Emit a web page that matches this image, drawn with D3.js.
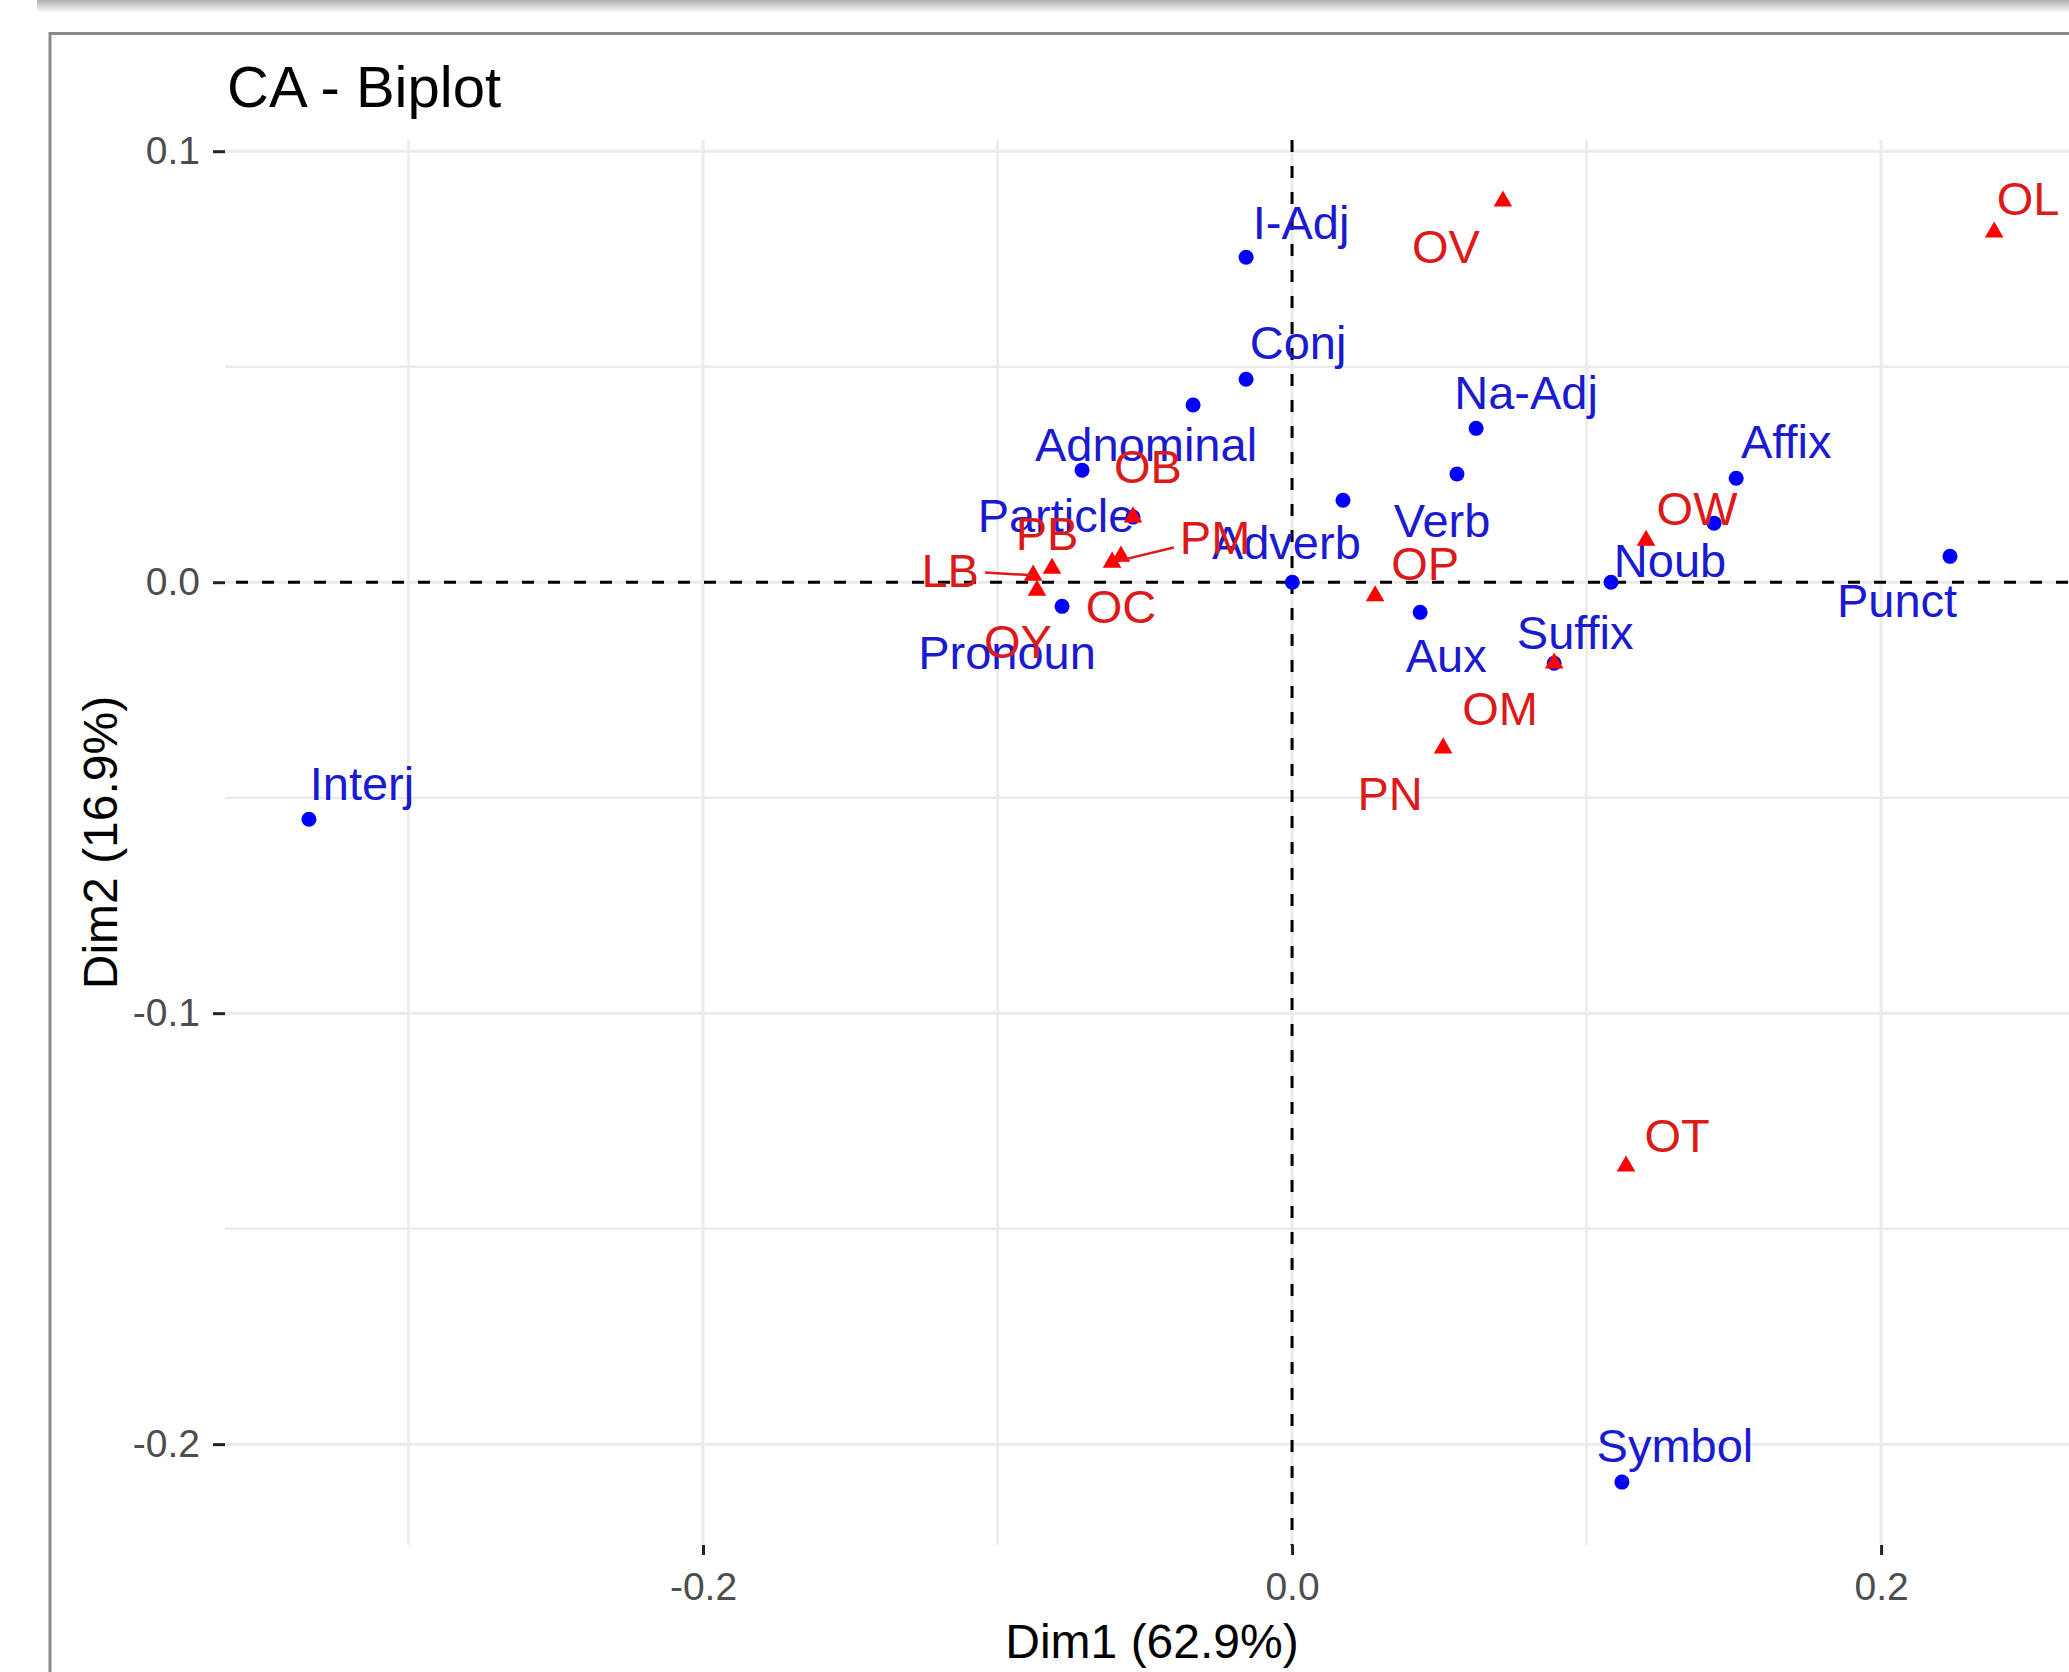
<!DOCTYPE html>
<html>
<head>
<meta charset="utf-8">
<script src="https://cdn.jsdelivr.net/npm/d3@7"></script>
<style>
  html, body { margin: 0; padding: 0; background: #ffffff; }
  svg { display: block; }
</style>
</head>
<body>
<script>
// ---------------- DATA ----------------
const titleText = "CA - Biplot";
const xTitle = "Dim1 (62.9%)";
const yTitle = "Dim2 (16.9%)";

const xTicks = [-0.2, 0.0, 0.2];
const xTickLabels = ["-0.2", "0.0", "0.2"];
const yTicks = [0.1, 0.0, -0.1, -0.2];
const yTickLabels = ["0.1", "0.0", "-0.1", "-0.2"];
const xMinorTicks = [-0.3, -0.1, 0.1, 0.3];
const yMinorTicks = [0.05, -0.05, -0.15];

// Row categories (blue points); "" = point drawn without a label
const rowNames = ["I-Adj", "Conj", "", "Adnominal", "Particle", "Adverb", "", "Na-Adj", "Verb",
                  "Noub", "Affix", "", "Punct", "Pronoun", "Aux", "Suffix", "Interj", "Symbol"];
const rowDim1 = [-0.0156, -0.0156, -0.0336, -0.0713, -0.0540, 0.0001, 0.0173, 0.0625, 0.0560,
                  0.1083, 0.1508, 0.1433, 0.2234, -0.0781, 0.0435, 0.0890, -0.3338, 0.1120];
const rowDim2 = [0.0754, 0.0471, 0.0411, 0.0260, 0.0151, 0.0000, 0.0190, 0.0357, 0.0251,
                  0.0000, 0.0241, 0.0137, 0.0060, -0.0056, -0.0070, -0.0188, -0.0550, -0.2088];

// Column categories (red triangles)
const colNames = ["OV", "OL", "OB", "PM", "OC", "PB", "LB", "OY", "OP", "OW", "OM", "PN", "OT"];
const colDim1 = [0.0716, 0.2384, -0.0540, -0.0611, -0.0581, -0.0815, -0.0879, -0.0866, 0.0282,
                  0.1202, 0.0890, 0.0513, 0.1134];
const colDim2 = [0.0884, 0.0812, 0.0151, 0.0046, 0.0060, 0.0032, 0.0016, -0.0019, -0.0032,
                  0.0097, -0.0188, -0.0385, -0.1355];

// ---------------- LAYOUT (repelled label offsets in px, segment flags) ----------------
const rowLabelDx = [55, 52, 0, 64, -77, -6, 0, 50, -15, 59, 50, 0, -53, -55, 26, 21, 53, 53];
const rowLabelDy = [-35, -37, 0, -26, -2, -40, 0, -36, 46, -22, -37, 0, 44, 46, 43, -31, -36, -37];
const rowLabelSeg = [0,0,0,0,0,0,0,0,0,1,0,0,0,0,0,0,0,1];
const colLabelDx = [-57, 34, 15, 103, 0, -5, -83, -19, 50, 51, -54, -53, 51];
const colLabelDy = [45, -34, -51, -25, 50, -35, -5, 51, -33, -32, 45, 45, -31];
const colLabelSeg = [0,0,0,1,0,0,1,0,0,0,0,0,0];

// ---------------- DRAW ----------------
const W = 2069, H = 1672;
const FONT = "'Liberation Sans', Arial, Helvetica, sans-serif";
const panel = { left: 225, right: 2079, top: 140, bottom: 1545 };

const svg = d3.select("body").append("svg")
  .attr("width", W).attr("height", H)
  .attr("viewBox", `0 0 ${W} ${H}`);

// window frame / shadow (screenshot border)
const defs = svg.append("defs");
const grad = defs.append("linearGradient").attr("id", "shadow")
  .attr("x1", 0).attr("y1", 0).attr("x2", 0).attr("y2", 1);
grad.append("stop").attr("offset", "0%").attr("stop-color", "#b0b0b0");
grad.append("stop").attr("offset", "100%").attr("stop-color", "#ffffff");
svg.append("rect").attr("x", 37).attr("y", 0).attr("width", W - 37).attr("height", 13)
  .attr("fill", "url(#shadow)");
svg.append("line").attr("x1", 49).attr("x2", W).attr("y1", 33.5).attr("y2", 33.5)
  .attr("stroke", "#8a8a8a").attr("stroke-width", 3);
svg.append("line").attr("x1", 50).attr("x2", 50).attr("y1", 32).attr("y2", H)
  .attr("stroke", "#8a8a8a").attr("stroke-width", 3);

const x = d3.scaleLinear().domain([-0.3623, 0.2672]).range([panel.left, panel.right]);
const y = d3.scaleLinear().domain([-0.2234, 0.1026]).range([panel.bottom, panel.top]);

// grid
const grid = svg.append("g");
grid.selectAll(".gxm").data(xMinorTicks).join("line")
  .attr("x1", d => x(d)).attr("x2", d => x(d))
  .attr("y1", panel.top).attr("y2", panel.bottom)
  .attr("stroke", "#ebebeb").attr("stroke-width", 2.5);
grid.selectAll(".gym").data(yMinorTicks).join("line")
  .attr("x1", panel.left).attr("x2", panel.right)
  .attr("y1", d => y(d)).attr("y2", d => y(d))
  .attr("stroke", "#ebebeb").attr("stroke-width", 2.5);
grid.selectAll(".gx").data(xTicks).join("line")
  .attr("x1", d => x(d)).attr("x2", d => x(d))
  .attr("y1", panel.top).attr("y2", panel.bottom)
  .attr("stroke", "#ebebeb").attr("stroke-width", 3);
grid.selectAll(".gy").data(yTicks).join("line")
  .attr("x1", panel.left).attr("x2", panel.right)
  .attr("y1", d => y(d)).attr("y2", d => y(d))
  .attr("stroke", "#ebebeb").attr("stroke-width", 3);

// axes
const yAxis = d3.axisLeft(y).tickValues(yTicks)
  .tickFormat((d, i) => yTickLabels[i]).tickSize(12).tickPadding(13);
const gy = svg.append("g").attr("transform", `translate(${panel.left},0)`).call(yAxis);
const xAxis = d3.axisBottom(x).tickValues(xTicks)
  .tickFormat((d, i) => xTickLabels[i]).tickSize(10).tickPadding(17);
const gx = svg.append("g").attr("transform", `translate(0,${panel.bottom})`).call(xAxis);
[gx, gy].forEach(g => {
  g.select(".domain").remove();
  g.attr("font-family", FONT).attr("font-size", 39);
  g.selectAll(".tick line").attr("stroke", "#222").attr("stroke-width", 3);
  g.selectAll(".tick text").attr("fill", "#4d4d4d");
});

// reference dashed lines at 0
svg.append("line")
  .attr("x1", panel.left).attr("x2", panel.right)
  .attr("y1", y(0)).attr("y2", y(0))
  .attr("stroke", "#000").attr("stroke-width", 3)
  .attr("stroke-dasharray", "12,14").attr("stroke-dashoffset", 15);
svg.append("line")
  .attr("x1", x(0)).attr("x2", x(0))
  .attr("y1", panel.top).attr("y2", panel.bottom)
  .attr("stroke", "#000").attr("stroke-width", 3)
  .attr("stroke-dasharray", "12,14");

// titles
svg.append("text").attr("x", 227).attr("y", 107)
  .attr("font-family", FONT).attr("font-size", 58).attr("fill", "#000")
  .text(titleText);
svg.append("text").attr("x", (panel.left + panel.right) / 2).attr("y", 1658)
  .attr("text-anchor", "middle")
  .attr("font-family", FONT).attr("font-size", 48).attr("fill", "#000")
  .text(xTitle);
svg.append("text")
  .attr("transform", `translate(117,${(panel.top + panel.bottom) / 2}) rotate(-90)`)
  .attr("text-anchor", "middle")
  .attr("font-family", FONT).attr("font-size", 48).attr("fill", "#000")
  .text(yTitle);

// data
const rows = rowNames.map((n, i) => ({ name: n, d1: rowDim1[i], d2: rowDim2[i],
  dx: rowLabelDx[i], dy: rowLabelDy[i], seg: rowLabelSeg[i] }));
const cols = colNames.map((n, i) => ({ name: n, d1: colDim1[i], d2: colDim2[i],
  dx: colLabelDx[i], dy: colLabelDy[i], seg: colLabelSeg[i] }));

function drawLabels(g, data, color) {
  const lab = data.filter(d => d.name !== "");
  const texts = g.selectAll("text.lab").data(lab).join("text")
    .attr("class", "lab")
    .attr("x", d => x(d.d1) + d.dx)
    .attr("y", d => y(d.d2) + d.dy)
    .attr("dy", "0.358em")
    .attr("text-anchor", "middle")
    .attr("font-family", FONT).attr("font-size", 47)
    .attr("fill", color)
    .text(d => d.name);
  // repel-style segments
  texts.each(function (d) {
    if (!d.seg) return;
    const bb = this.getBBox();
    const pad = 6;
    const cx = bb.x + bb.width / 2, cy = bb.y + bb.height / 2;
    const hw = bb.width / 2 + pad, hh = bb.height / 2 + pad;
    const px = x(d.d1), py = y(d.d2);
    const vx = px - cx, vy = py - cy;
    const t = Math.min(vx !== 0 ? hw / Math.abs(vx) : Infinity, vy !== 0 ? hh / Math.abs(vy) : Infinity);
    if (t >= 1) return;
    g.insert("line", "text")
      .attr("x1", px).attr("y1", py)
      .attr("x2", cx + vx * t).attr("y2", cy + vy * t)
      .attr("stroke", color).attr("stroke-width", 2.5);
  });
}

// rows
const gRows = svg.append("g");
gRows.selectAll("circle").data(rows).join("circle")
  .attr("cx", d => x(d.d1)).attr("cy", d => y(d.d2)).attr("r", 7.5)
  .attr("fill", "#0000ff");
const gRowLab = svg.append("g");
drawLabels(gRowLab, rows, "#1a1ad0");

// columns
const gCols = svg.append("g");
const tri = d3.symbol().type(d3.symbolTriangle).size(150);
gCols.selectAll("path").data(cols).join("path")
  .attr("transform", d => `translate(${x(d.d1)},${y(d.d2)})`)
  .attr("d", tri)
  .attr("fill", "#ff0000");
const gColLab = svg.append("g");
drawLabels(gColLab, cols, "#dc1a1a");
</script>
</body>
</html>
